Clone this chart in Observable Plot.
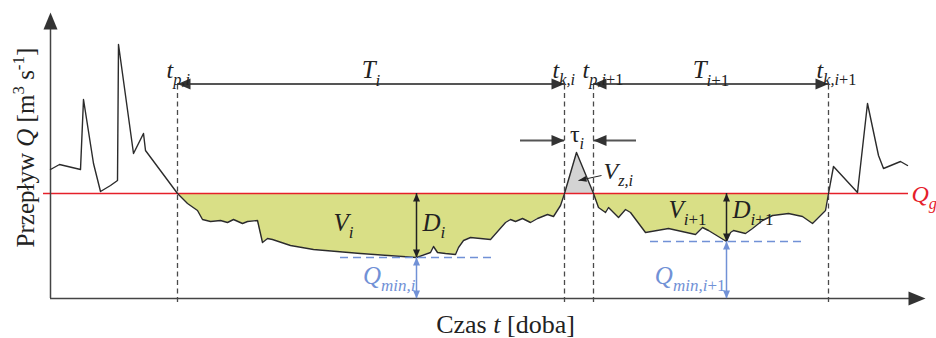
<!DOCTYPE html>
<html><head><meta charset="utf-8">
<script src="https://cdn.jsdelivr.net/npm/d3@7"></script>
<script src="https://cdn.jsdelivr.net/npm/@observablehq/plot@0.6"></script>
<style>
html,body{margin:0;padding:0;background:#fff;overflow:hidden;}
#chart svg{display:block;}
</style>
</head><body><div id="chart"></div>
<script>
// ---- data (time t in days, flow Q) ----
const days = [0,9,30,33,43,50,60,67,68,83,93,95,127,137,147,152,160,170,177,183,192,197,207,212,217,222,240,263,310,366,380,383,387,395,405,408,413,420,440,455,460,465,472,480,487,497,503,510,514,526,543,548,555,558,568,575,580,595,618,645,652,658,676,680,683,695,702,712,722,738,752,762,768,775,778,783,807,817,828,833,850,857];
const flow = [12.9,13.4,12.9,19.9,13.5,10.7,11.3,11.8,25.4,14.5,16.5,14.8,10.5,9.5,8.8,7.9,7.7,7.8,7.6,7.9,7.5,7.7,7.8,5.6,6.0,5.9,5.3,4.9,4.5,4.1,4.6,5.2,4.6,4.5,4.4,5.1,5.8,6.1,5.9,7.6,7.9,7.7,8.0,7.6,8.0,8.4,8.2,9.3,10.5,14.6,10.5,9.1,8.6,9.1,8.1,8.9,8.6,6.6,7.0,6.4,7.1,6.8,5.7,6.6,6.8,6.5,7.0,7.8,8.3,8.5,8.2,7.5,8.1,8.8,10.5,13.2,10.6,19.5,14.3,13.0,13.7,13.3];
const threshold = 10.5;              // Q_g
const droughtStart = [127, 543];     // t_p,i , t_p,i+1
const droughtEnd = [514, 778];       // t_k,i , t_k,i+1
const minDays = [366, 676];
const minFlows = [4.1, 5.7];
const minDashFrom = [290, 600];
const minDashTo = [445, 755];
const durationLevel = 21.45;
const gapLevel = 15.8;
const gapArrowFrom = [470, 586];
const startLabels = ["*t*_{*p,i*}", "*t*_{*p,i*+1}"];
const endLabels = ["*t*_{*k,i*}", "*t*_{*k,i*+1}"];
const durationLabels = ["*T*_{*i*}", "*T*_{*i*+1}"];
const volumeLabels = ["*V*_{*i*}", "*V*_{*i*+1}"];
const volumeLabelDays = [283, 618];
const volumeLabelFlows = [6.8, 8.1];
const depthLabels = ["*D*_{*i*}", "*D*_{*i*+1}"];
const minLabels = ["*Q*_{*min,i*}", "*Q*_{*min,i*+1}"];
const gapLabel = "τ_{*i*}";
const excessLabel = "*V*_{*z,i*}";
const excessLabelPos = [553, 12.0];
const excessPointerFrom = [551, 12.3];
const excessPointerTo = [528, 11.8];
const thresholdLabel = "*Q*_{*g*}";
const thresholdLabelDay = 861;
const thresholdFrom = -7, thresholdTo = 858;
const xTitle = "Czas *t* [doba]";
const yTitle = "Przepływ *Q* [m^{3} s^{-1}]";
const xMax = 875, yMax = 28.6;

// ---- derived tables ----
const rows = days.map((t, i) => ({t, Q: flow[i]}));
const events = droughtStart.map((s, k) => ({
  start: s, end: droughtEnd[k], mid: (s + droughtEnd[k]) / 2,
  minDay: minDays[k], minQ: minFlows[k], dashFrom: minDashFrom[k], dashTo: minDashTo[k],
  startLabel: startLabels[k], endLabel: endLabels[k], durLabel: durationLabels[k],
  volLabel: volumeLabels[k], volDay: volumeLabelDays[k], volQ: volumeLabelFlows[k],
  depthLabel: depthLabels[k], minLabel: minLabels[k]
}));
const droughtRows = events.map(e => rows.filter(r => r.t >= e.start && r.t <= e.end));
const excessRows = rows.filter(r => r.t >= droughtEnd[0] && r.t <= droughtStart[1]);
const gapMid = (droughtEnd[0] + droughtStart[1]) / 2;

const spike = {draw(ctx, l, r) { ctx.moveTo(-r, 0); ctx.lineTo(0, -l); ctx.lineTo(r, 0); ctx.closePath(); }};
const heads = (data, opts) => Plot.vector(data, {x: "t", y: "Q", rotate: "rot", anchor: "end", shape: spike, stroke: "none", ...opts});

const durHeads = [
  ...events.flatMap(e => [{t: e.start, Q: durationLevel, rot: 270}, {t: e.end, Q: durationLevel, rot: 90}]),
  {t: droughtEnd[0], Q: gapLevel, rot: 90}, {t: droughtStart[1], Q: gapLevel, rot: 270}
];
const depthHeads = events.flatMap(e => [{t: e.minDay, Q: threshold, rot: 0}, {t: e.minDay, Q: e.minQ, rot: 180}]);
const minHeads = events.flatMap(e => [{t: e.minDay, Q: e.minQ, rot: 0}, {t: e.minDay, Q: 0, rot: 180}]);
const axisHeads = [{t: 0, Q: yMax, rot: 0}, {t: xMax, Q: 0, rot: 90}];

const dark = "#2b2b2b", red = "#e5202a", blue = "#7191d6", serif = "'Liberation Serif', 'Times New Roman', serif";

const chart = Plot.plot({
  width: 936, height: 338,
  marginLeft: 50, marginRight: 11, marginTop: 12, marginBottom: 40,
  x: {domain: [0, xMax], axis: null},
  y: {domain: [0, yMax], axis: null},
  style: {fontFamily: serif, background: "#fff", overflow: "visible"},
  marks: [
    ...droughtRows.map(d => Plot.areaY(d, {x: "t", y1: "Q", y2: threshold, fill: "#d9df86"})),
    Plot.areaY(excessRows, {x: "t", y1: threshold, y2: "Q", fill: "#d3d3d3"}),
    Plot.ruleY([threshold], {x1: thresholdFrom, x2: thresholdTo, stroke: red, strokeWidth: 1.6}),
    Plot.ruleX([0], {y1: 0, y2: yMax - 1, stroke: "#444", strokeWidth: 1.5}),
    Plot.ruleY([0], {x1: 0, x2: xMax - 3, stroke: "#444", strokeWidth: 1.5}),
    Plot.line(rows, {x: "t", y: "Q", stroke: dark, strokeWidth: 1.4}),
    Plot.ruleX([...droughtStart, ...droughtEnd], {y1: -0.4, y2: durationLevel, stroke: "#4a4a4a", strokeWidth: 1.3, strokeDasharray: "5,3.5"}),
    Plot.ruleY(events, {y: "minQ", x1: "dashFrom", x2: "dashTo", stroke: blue, strokeWidth: 1.3, strokeDasharray: "8,5"}),
    Plot.ruleY(events, {y: durationLevel, x1: "start", x2: "end", stroke: "#555", strokeWidth: 2}),
    Plot.ruleY([{a: gapArrowFrom[0], b: droughtEnd[0]}, {a: droughtStart[1], b: gapArrowFrom[1]}], {y: gapLevel, x1: "a", x2: "b", stroke: "#555", strokeWidth: 1.8}),
    Plot.ruleX(events, {x: "minDay", y1: "minQ", y2: threshold, stroke: "#222", strokeWidth: 1.5}),
    Plot.ruleX(events, {x: "minDay", y1: 0, y2: "minQ", stroke: blue, strokeWidth: 1.5}),
    Plot.link([{x1: excessPointerFrom[0], y1: excessPointerFrom[1], x2: excessPointerTo[0], y2: excessPointerTo[1]}], {x1: "x1", y1: "y1", x2: "x2", y2: "y2", stroke: "#222", strokeWidth: 1}),
    Plot.vector([{t: excessPointerTo[0], Q: excessPointerTo[1]}], {x: "t", y: "Q", rotate: 258, anchor: "end", shape: spike, length: 8, r: 3, fill: "#222", stroke: "none"}),
    heads(axisHeads, {length: 17, r: 7, fill: "#333"}),
    heads(durHeads, {length: 13, r: 5.5, fill: "#333"}),
    heads(depthHeads, {length: 8, r: 3.5, fill: "#222"}),
    heads(minHeads, {length: 8, r: 3.5, fill: blue}),
    // labels
    Plot.text(events, {x: "start", y: durationLevel, text: "startLabel", textAnchor: "start", lineAnchor: "bottom", dx: -11, dy: -6, fontSize: 24, fill: "#222"}),
    Plot.text(events, {x: "end", y: durationLevel, text: "endLabel", textAnchor: "start", lineAnchor: "bottom", dx: -12, dy: -6, fontSize: 24, fill: "#222"}),
    Plot.text(events, {x: "mid", y: durationLevel, text: "durLabel", textAnchor: "middle", lineAnchor: "bottom", dy: -6, fontSize: 25, fill: "#222"}),
    Plot.text([gapLabel], {x: gapMid, y: gapLevel, text: d => d, textAnchor: "middle", lineAnchor: "bottom", dx: -2, dy: 1, fontSize: 24, fill: "#222"}),
    Plot.text([excessLabel], {x: excessLabelPos[0], y: excessLabelPos[1], text: d => d, textAnchor: "start", lineAnchor: "bottom", fontSize: 24, fill: "#222"}),
    Plot.text(events, {x: "volDay", y: "volQ", text: "volLabel", textAnchor: "start", lineAnchor: "bottom", fontSize: 25, fill: "#222"}),
    Plot.text(events, {x: "minDay", y: "volQ", text: "depthLabel", textAnchor: "start", lineAnchor: "bottom", dx: 6, fontSize: 25, fill: "#222"}),
    Plot.text(events, {x: "minDay", y: 0, text: "minLabel", textAnchor: "end", lineAnchor: "bottom", dx: -1, dy: -15, fontSize: 25, fill: blue}),
    Plot.text([thresholdLabel], {x: thresholdLabelDay, y: threshold, text: d => d, textAnchor: "start", lineAnchor: "bottom", dy: 8, fontSize: 24, fill: red}),
    Plot.text([xTitle], {x: 455, y: 0, text: d => d, textAnchor: "middle", lineAnchor: "bottom", dy: 34, fontSize: 26, fill: "#222"}),
    Plot.text([yTitle], {x: 0, y: 15.1, text: d => d, textAnchor: "middle", lineAnchor: "bottom", rotate: -90, dx: -17, fontSize: 25, fill: "#222"})
  ]
});

document.getElementById("chart").appendChild(chart);

// turn the tiny markup (*italic*, _{sub}, ^{sup}) into tspans
function richText(el) {
  const s = el.textContent;
  if (!/[*_^]/.test(s)) return;
  const fs = parseFloat(getComputedStyle(el).fontSize) || 24;
  const runs = [];
  let italic = false, level = 0, buf = "";
  const flush = () => { if (buf) runs.push({text: buf, italic, level}); buf = ""; };
  for (let i = 0; i < s.length; i++) {
    const c = s[i];
    if (c === "*") { flush(); italic = !italic; }
    else if ((c === "_" || c === "^") && s[i + 1] === "{") { flush(); level = c === "_" ? -1 : 1; i++; }
    else if (c === "}") { flush(); level = 0; }
    else buf += c;
  }
  flush();
  el.textContent = "";
  let offset = 0;
  for (const r of runs) {
    const ts = document.createElementNS("http://www.w3.org/2000/svg", "tspan");
    const target = r.level < 0 ? 0.3 * fs : r.level > 0 ? -0.38 * fs : 0;
    if (target !== offset) ts.setAttribute("dy", target - offset);
    offset = target;
    if (r.level) ts.setAttribute("font-size", 0.68 * fs);
    if (r.italic) ts.setAttribute("font-style", "italic");
    ts.textContent = r.text;
    el.appendChild(ts);
  }
}
chart.querySelectorAll("text").forEach(richText);
</script>
</body></html>
